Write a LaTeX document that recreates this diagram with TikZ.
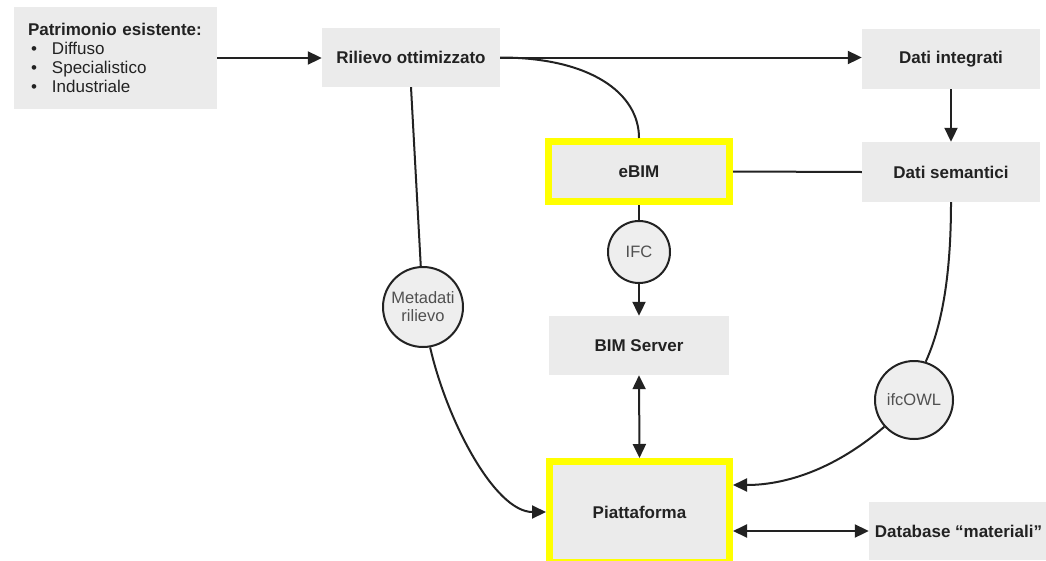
\documentclass[tikz,border=0pt]{standalone}
\usepackage{fontspec}
\setmainfont{Liberation Sans}
\usetikzlibrary{arrows.meta}
\definecolor{boxgray}{HTML}{EBEBEB}
\definecolor{circfill}{HTML}{EEEEEE}
\definecolor{ink}{HTML}{222222}
\definecolor{circtext}{HTML}{505050}
\definecolor{yel}{HTML}{FFFF00}
\begin{document}
\begin{tikzpicture}[x=1pt,y=-1pt,
  box/.style={rectangle, fill=boxgray, draw=none, inner sep=1pt,
    font=\fontsize{17}{19}\selectfont\bfseries, text=ink},
  hlbox/.style={rectangle, fill=boxgray, draw=yel, line width=7pt, inner sep=1pt,
    font=\fontsize{17}{19}\selectfont\bfseries, text=ink},
  bubble/.style={circle, fill=circfill, draw=ink, line width=2pt, inner sep=0pt,
    font=\fontsize{16.5}{18}\selectfont, text=circtext, align=center},
  conn/.style={draw=ink, line width=2pt},
  arr/.style={conn, -{Triangle[length=14pt,width=13pt]}},
  darr/.style={conn, {Triangle[length=14pt,width=13pt]}-{Triangle[length=14pt,width=13pt]}},
]
\useasboundingbox (0,0) rectangle (1046,560);
\clip (0,0) rectangle (1046,560);

% boxes
\node[box, minimum width=203pt, minimum height=102pt, text width=175pt,
      inner xsep=14pt, align=left, font=\fontsize{17}{19}\selectfont] (pat) at (115.5,58)
  {\textbf{Patrimonio esistente:}\\
   \makebox[24pt][l]{\hspace{3pt}•}Diffuso\\
   \makebox[24pt][l]{\hspace{3pt}•}Specialistico\\
   \makebox[24pt][l]{\hspace{3pt}•}Industriale};
\node[box, minimum width=178pt, minimum height=59pt] (ril) at (411,57.5) {Rilievo ottimizzato};
\node[box, minimum width=178pt, minimum height=60pt] (int) at (951,59) {Dati integrati};
\node[box, minimum width=178pt, minimum height=60pt] (sem) at (951,172) {Dati semantici};
\node[hlbox, minimum width=181pt, minimum height=60pt] (ebim) at (639,171.5) {eBIM};
\node[box, minimum width=180pt, minimum height=59pt] (bims) at (639,345.5) {BIM Server};
\node[hlbox, minimum width=180pt, minimum height=101pt] (piat) at (639.5,512) {Piattaforma};
\node[box, minimum width=179pt, minimum height=58pt, inner sep=0pt] (db) at (958.5,531) {Database “materiali”};

% bubbles
\node[bubble, minimum size=62pt] (ifc) at (639,252) {IFC};
\node[bubble, minimum size=80pt] (meta) at (423,307) {Metadati\\rilievo};
\node[bubble, minimum size=78pt] (owl) at (914,400) {ifcOWL};

% connectors
\draw[arr] (pat.east) -- (pat.east -| ril.west);
\draw[arr] (ril.east) -- (ril.east -| int.west);
\draw[conn] (ril.east) .. controls +(90,0) and +(0,-45) .. (ebim.north);
\draw[conn] (ril.south) -- (meta);
\draw[arr] (meta.-80) .. controls +(17,74) and +(-51,0) .. (piat.west);
\draw[conn] (ebim.south) -- (ifc);
\draw[arr] (ifc) -- (bims.north);
\draw[darr] (bims.south) -- (piat.north);
\draw[conn] (ebim.east) -- (sem.west);
\draw[arr] (int.south) -- (sem.north);
\draw[conn] (sem.south) .. controls +(0,78) and +(15,-33) .. (owl.73);
\draw[arr] (owl.222) .. controls +(-45,39) and +(57,0) .. ([yshift=27pt]piat.east);
\draw[darr] (db.west -| piat.east) -- (db.west);
\end{tikzpicture}
\end{document}
